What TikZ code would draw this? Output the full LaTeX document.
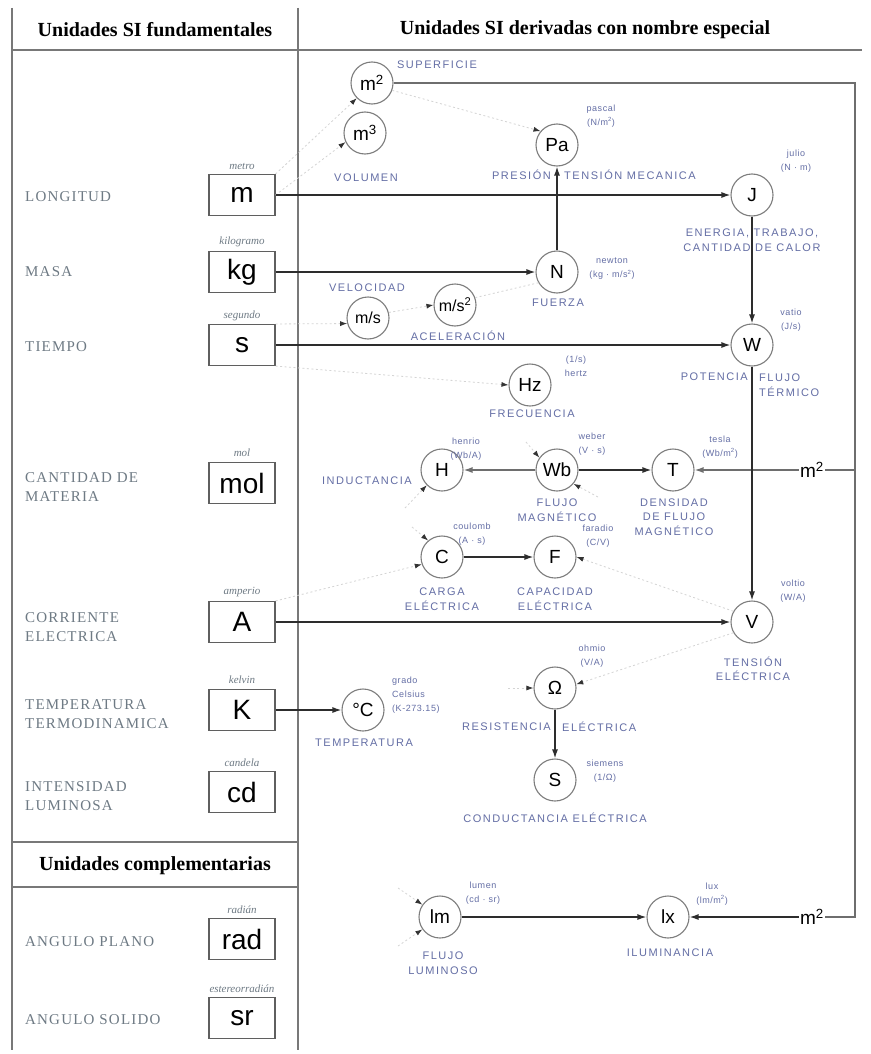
\documentclass[tikz,border=0pt]{standalone}
\usepackage{fontspec}
\setmainfont{Liberation Serif}
\setsansfont{Liberation Sans}
\newfontfamily\qtyfont[LetterSpace=14]{Liberation Sans}
\newfontfamily\unfont[LetterSpace=6]{Liberation Sans}
\newfontfamily\lblfont[LetterSpace=8]{Liberation Serif}
\usetikzlibrary{arrows.meta}
\definecolor{lblblue}{RGB}{100,110,165}
\definecolor{lblgray}{RGB}{110,122,132}
\definecolor{circgray}{RGB}{125,125,125}
\definecolor{boxgray}{RGB}{95,95,95}
\definecolor{framegray}{RGB}{120,120,120}
\definecolor{linecol}{RGB}{45,45,45}
\definecolor{gline}{RGB}{110,110,110}
\definecolor{faint}{RGB}{212,212,212}
\begin{document}
\begin{tikzpicture}[x=1pt,y=-1pt,
 frame/.style={draw=framegray, line width=1.1pt},
 unitbox/.style={draw=boxgray, line width=1.1pt, minimum width=66pt, minimum height=41pt, inner sep=0pt, font=\sffamily\fontsize{28}{28}\selectfont},
 du/.style={circle, draw=circgray, line width=1.1pt, minimum size=42pt, inner sep=0pt, font=\sffamily\fontsize{19}{19}\selectfont},
 dus/.style={du, font=\sffamily\fontsize{16}{16}\selectfont},
 qty/.style={text=lblblue, font=\qtyfont\fontsize{11}{14.5}\selectfont, align=center, inner sep=0pt},
 uname/.style={text=lblblue, font=\unfont\fontsize{9}{14}\selectfont, align=center, inner sep=0pt},
 leftlbl/.style={text=lblgray, font=\lblfont\fontsize{15}{19}\selectfont, anchor=west, align=left, inner sep=0pt},
 itname/.style={text=lblgray, font=\itshape\fontsize{11}{11}\selectfont, inner sep=0pt},
 hdr/.style={font=\bfseries\fontsize{20}{20}\selectfont, inner sep=0pt},
 bigsym/.style={font=\sffamily\fontsize{19}{19}\selectfont, inner sep=1pt},
 conn/.style={draw=linecol, line width=1.4pt, -{Latex[length=9pt,width=6pt]}},
 gconn/.style={draw=gline, line width=1.4pt, -{Latex[length=9pt,width=6pt]}},
 loopline/.style={draw=gline, line width=1.1pt},
 ghost/.style={draw=faint, line width=0.8pt, dash pattern=on 2pt off 2.5pt, -{Latex[length=7pt,width=5pt,color=black!80]}},
 ghostline/.style={draw=faint, line width=0.8pt, dash pattern=on 2pt off 2.5pt}
]
\useasboundingbox (0,0) rectangle (870,1054);
\fill[white] (0,0) rectangle (870,1054);

% frame
\draw[frame] (12,8) -- (12,1050);
\draw[frame] (298,8) -- (298,1050);
\draw[frame] (12,50) -- (862,50);
\draw[frame] (12,842) -- (298,842);
\draw[frame] (12,887) -- (298,887);

% headers
\node[hdr] (h1) at (155,30) {Unidades SI fundamentales};
\node[hdr] (h2) at (585,30) {Unidades SI derivadas con nombre especial};
\node[hdr] (h3) at (155,866) {Unidades complementarias};

% base units
\node[unitbox] (m) at (242,195) {m};
\node[unitbox] (kg) at (242,272) {kg};
\node[unitbox] (s) at (242,345) {s};
\node[unitbox] (mol) at (242,483) {mol};
\node[unitbox] (A) at (242,622) {A};
\node[unitbox] (K) at (242,710) {K};
\node[unitbox] (cd) at (242,792) {cd};
\node[unitbox] (rad) at (242,939) {rad};
\node[unitbox] (sr) at (242,1018) {sr};

\node[itname] (nm) at (242,166) {metro};
\node[itname] (nkg) at (242,242) {kilogramo};
\node[itname] (ns) at (242,316) {segundo};
\node[itname] (nmol) at (242,453) {mol};
\node[itname] (nA) at (242,592) {amperio};
\node[itname] (nK) at (242,680) {kelvin};
\node[itname] (ncd) at (242,763) {candela};
\node[itname] (nrad) at (242,910) {radián};
\node[itname] (nsr) at (242,989) {estereorradián};

\node[leftlbl] (q1) at (25,197) {LONGITUD};
\node[leftlbl] (q2) at (25,272) {MASA};
\node[leftlbl] (q3) at (25,347) {TIEMPO};
\node[leftlbl] (q4) at (25,487) {CANTIDAD DE\\MATERIA};
\node[leftlbl] (q5) at (25,627) {CORRIENTE\\ELECTRICA};
\node[leftlbl] (q6) at (25,714) {TEMPERATURA\\TERMODINAMICA};
\node[leftlbl] (q7) at (25,796) {INTENSIDAD\\LUMINOSA};
\node[leftlbl] (q8) at (25,942) {ANGULO PLANO};
\node[leftlbl] (q9) at (25,1020) {ANGULO SOLIDO};

% derived units
\node[du] (m2) at (372,83) {m\textsuperscript{2}};
\node[du] (m3) at (365,133) {m\textsuperscript{3}};
\node[du] (Pa) at (557,145) {Pa};
\node[du] (J) at (752,195) {J};
\node[du] (N) at (557,272) {N};
\node[dus] (ms) at (368,318) {m/s};
\node[dus] (ms2) at (455,305) {m/s\textsuperscript{2}};
\node[du] (Hz) at (530,385) {Hz};
\node[du] (W) at (752,345) {W};
\node[du] (H) at (442,470) {H};
\node[du] (Wb) at (557,470) {Wb};
\node[du] (T) at (673,470) {T};
\node[du] (C) at (442,557) {C};
\node[du] (F) at (555,557) {F};
\node[du] (V) at (752,622) {V};
\node[du] (Om) at (555,688) {Ω};
\node[du] (S) at (555,780) {S};
\node[du] (dC) at (363,710) {°C};
\node[du] (lm) at (440,917) {lm};
\node[du] (lx) at (668,917) {lx};
\node[bigsym] (mT) at (812,470) {m\textsuperscript{2}};
\node[bigsym] (mL) at (812,917) {m\textsuperscript{2}};
\coordinate (cTop) at (855,83);
\coordinate (cT) at (855,470);
\coordinate (cBot) at (855,917);

% labels
\node[qty] (lSup) at (437,65) {SUPERFICIE};
\node[qty] (lVol) at (366,178) {VOLUMEN};
\node[qty, anchor=east] (lPre) at (551,175) {PRESIÓN};
\node[qty, anchor=west] (lTen) at (564,175) {TENSIÓN MECANICA};
\node[uname] (uPa) at (601,116) {pascal\\(N/m\textsuperscript{2})};
\node[uname] (uJ) at (796,161) {julio\\(N · m)};
\node[qty] (lJ) at (752,240) {ENERGIA, TRABAJO,\\CANTIDAD DE CALOR};
\node[uname] (uN) at (612,269) {newton\\(kg · m/s\textsuperscript{2})};
\node[qty] (lN) at (558,303) {FUERZA};
\node[qty] (lVel) at (367,288) {VELOCIDAD};
\node[qty] (lAcc) at (458,336) {ACELERACIÓN};
\node[uname] (uHz) at (576,366) {(1/s)\\hertz};
\node[qty] (lHz) at (532,414) {FRECUENCIA};
\node[uname] (uW) at (791,320) {vatio\\(J/s)};
\node[qty, anchor=east] (lPot) at (748,377) {POTENCIA};
\node[qty, anchor=west, align=left] (lFlT) at (759,385) {FLUJO\\TÉRMICO};
\node[uname] (uH) at (466,449) {henrio\\(Wb/A)};
\node[qty, anchor=east] (lH) at (412,481) {INDUCTANCIA};
\node[uname] (uWb) at (592,444) {weber\\(V · s)};
\node[qty] (lWb) at (557,510) {FLUJO\\MAGNÉTICO};
\node[uname] (uT) at (720,447) {tesla\\(Wb/m\textsuperscript{2})};
\node[qty] (lT) at (674,517) {DENSIDAD\\DE FLUJO\\MAGNÉTICO};
\node[uname] (uC) at (472,534) {coulomb\\(A · s)};
\node[qty] (lC) at (442,599) {CARGA\\ELÉCTRICA};
\node[uname] (uF) at (598,536) {faradio\\(C/V)};
\node[qty] (lF) at (555,599) {CAPACIDAD\\ELÉCTRICA};
\node[uname] (uV) at (793,591) {voltio\\(W/A)};
\node[qty] (lV) at (753,669) {TENSIÓN\\ELÉCTRICA};
\node[uname] (uOm) at (592,656) {ohmio\\(V/A)};
\node[qty, anchor=east] (lR1) at (551,727) {RESISTENCIA};
\node[qty, anchor=west] (lR2) at (562,727) {ELÉCTRICA};
\node[uname] (uS) at (605,771) {siemens\\(1/Ω)};
\node[qty] (lS) at (555,818) {CONDUCTANCIA ELÉCTRICA};
\node[uname, anchor=west, align=left] (udC) at (392,695) {grado\\Celsius\\(K-273.15)};
\node[qty] (ldC) at (364,743) {TEMPERATURA};
\node[uname] (ulm) at (483,893) {lumen\\(cd · sr)};
\node[qty] (llm) at (443,963) {FLUJO\\LUMINOSO};
\node[uname] (ulx) at (712,894) {lux\\(lm/m\textsuperscript{2})};
\node[qty] (llx) at (670,953) {ILUMINANCIA};

% faint derivation lines
\draw[ghost] (m.north east) -- (m2.225);
\draw[ghost] (m.east) -- (m3.205);
\draw[ghost] (m2.-20) -- (Pa.140);
\draw[ghost] (s.north east) -- (ms.195);
\draw[ghost] (ms.15) -- (ms2.west);
\draw[ghostline] (ms2.20) -- (N.210);
\draw[ghost] (s.south east) -- (Hz.west);
\draw[ghost] (A.north east) -- (C.200);
\draw[ghost] (V.150) -- (F.east);
\draw[ghost] (V.210) -- (Om.10);
\coordinate (gH) at (405,508);
\draw[ghost] (gH) -- (H.225);
\coordinate (gC) at (412,527);
\draw[ghost] (gC) -- (C.130);
\coordinate (gWb1) at (526,442);
\draw[ghost] (gWb1) -- (Wb.145);
\coordinate (gWb2) at (598,497);
\draw[ghost] (gWb2) -- (Wb.-40);
\coordinate (gOm) at (508,688);
\draw[ghost] (gOm) -- (Om.west);
\coordinate (glm1) at (398,888);
\draw[ghost] (glm1) -- (lm.145);
\coordinate (glm2) at (398,946);
\draw[ghost] (glm2) -- (lm.215);

% main connectors
\draw[loopline] (m2) -- (cTop) -- (cBot) -- (mL);
\draw[loopline] (cT) -- (mT);
\draw[gconn] (mT) -- (T);
\draw[conn] (mL) -- (lx);
\draw[conn] (m) -- (J);
\draw[conn] (kg) -- (N);
\draw[conn] (N) -- (Pa);
\draw[conn] (s) -- (W);
\draw[conn] (J) -- (W);
\draw[conn] (W) -- (V);
\draw[conn] (A) -- (V);
\draw[conn] (K) -- (dC);
\draw[gconn] (Wb) -- (H);
\draw[conn] (Wb) -- (T);
\draw[conn] (C) -- (F);
\draw[conn] (Om) -- (S);
\draw[conn] (lm) -- (lx);
\end{tikzpicture}
\end{document}
